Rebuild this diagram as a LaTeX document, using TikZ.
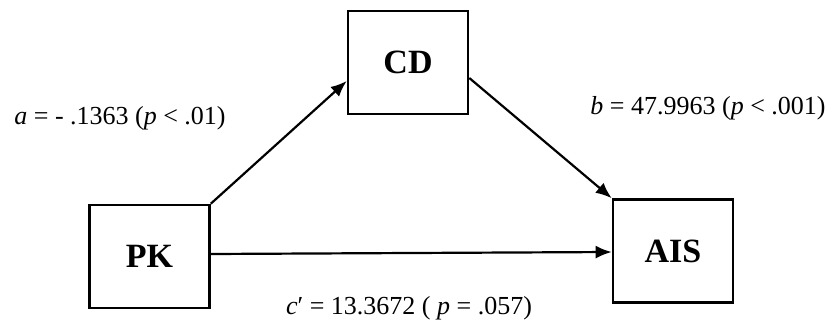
\documentclass[tikz,border=0pt]{standalone}
\usepackage{fontspec}
\setmainfont{Liberation Serif}
\usetikzlibrary{arrows.meta}

\begin{document}
\begin{tikzpicture}[
    x=1pt, y=-1pt,
    varbox/.style={draw, line width=2.6pt, minimum width=120pt, minimum height=103pt,
      font=\fontsize{34}{38}\selectfont\bfseries, inner sep=0pt},
    path/.style={line width=2.2pt, -{Latex[length=16pt,width=13pt]}},
    lbl/.style={font=\fontsize{26}{30}\selectfont, inner sep=0pt}
  ]
    \useasboundingbox (0,0) rectangle (832,329);
    \node[varbox] (pk) at (149.5,256.5) {PK};
    \node[varbox] (cd) at (408,62.5) {CD};
    \node[varbox] (ais) at (673,251) {AIS};
    \draw[path] (pk.north east) -- ([yshift=-18.5pt]cd.west);
    \draw[path] ([yshift=-15.5pt]cd.east) -- (ais.north west);
    \draw[path] ([yshift=2.5pt]pk.east) -- ([yshift=-1pt]ais.west);
    \node[lbl] (alab) at (120,118) {\textit{a} = - .1363 (\textit{p} < .01)};
    \node[lbl] (blab) at (708,108) {\textit{b} = 47.9963 (\textit{p} < .001)};
    \node[lbl] (clab) at (409,308) {\textit{c}′ = 13.3672 ( \textit{p} = .057)};
\end{tikzpicture}
\end{document}
